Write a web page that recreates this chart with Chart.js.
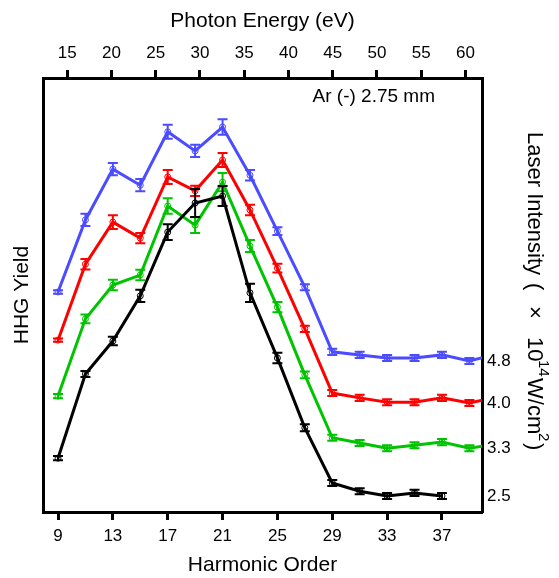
<!DOCTYPE html>
<html>
<head>
<meta charset="utf-8">
<script src="https://cdn.jsdelivr.net/npm/chart.js@4.4.0/dist/chart.umd.min.js"></script>
<style>
  html, body { margin: 0; padding: 0; background: #fff; }
  #wrap { width: 559px; height: 578px; }
</style>
</head>
<body>
<div id="wrap"><canvas id="hhg" width="559" height="578"></canvas></div>
<script>
// harmonic orders (odd harmonics of 800 nm)
var harmonics = [9, 11, 13, 15, 17, 19, 21, 23, 25, 27, 29, 31, 33, 35, 37, 39, 41];
var harmonicTicks = [9, 13, 17, 21, 25, 29, 33, 37];
var energyTicks = [15, 20, 25, 30, 35, 40, 45, 50, 55, 60];
var eVPerHarmonic = 1.55;

// laser intensity labels (x 10^14 W/cm^2)
var intensities = ['4.8', '4.0', '3.3', '2.5'];

// HHG yield, arbitrary units (offset curves)
var yield48 = [50.7, 67.3, 79.0, 75.3, 87.6, 83.2, 88.7, 77.6, 64.7, 51.8, 36.9, 36.2, 35.5, 35.5, 36.2, 34.8, 36.4];
var yield40 = [39.6, 57.1, 66.8, 63.1, 77.2, 74.0, 81.1, 69.6, 56.2, 42.2, 27.4, 26.3, 25.3, 25.3, 26.3, 25.1, 26.5];
var yield33 = [26.7, 44.5, 52.3, 54.6, 70.5, 66.1, 76.0, 61.3, 47.2, 31.6, 17.1, 15.9, 14.7, 15.4, 16.1, 14.7, 15.7];
var yield25 = [12.4, 31.8, 39.4, 49.8, 64.5, 71.2, 72.8, 50.5, 35.5, 19.4, 6.7, 4.8, 3.7, 4.4, 3.7];

// error bars (half height, same units)
var err48 = [0.4, 1.4, 1.4, 1.4, 1.6, 1.4, 1.8, 1.2, 0.9, 0.7, 0.7, 0.7, 0.7, 0.7, 0.7, 0.7, 0.7];
var err40 = [0.4, 1.2, 1.6, 1.2, 1.6, 1.2, 1.6, 1.2, 1.0, 0.7, 0.7, 0.7, 0.7, 0.7, 0.7, 0.7, 0.7];
var err33 = [0.5, 1.0, 1.2, 1.2, 1.8, 1.8, 2.1, 1.4, 1.2, 0.8, 0.7, 0.7, 0.7, 0.7, 0.7, 0.7, 0.7];
var err25 = [0.5, 0.7, 1.0, 1.4, 1.8, 3.2, 2.3, 2.1, 1.2, 0.8, 0.7, 0.7, 0.7, 0.7, 0.7];

var colors = { '4.8': '#4b4bff', '4.0': '#ff0000', '3.3': '#00c400', '2.5': '#000000' };

var xMin = 7.906, xMax = 39.92;

function makeSet(label, values, errors) {
    return {
        label: label,
        data: values.map(function(v, i) { return { x: harmonics[i], y: v }; }),
        errors: errors,
        borderColor: colors[label],
        backgroundColor: 'rgba(0,0,0,0)',
        borderWidth: 3,
        pointRadius: 3,
        pointBorderWidth: 1,
        pointBorderColor: colors[label],
        pointBackgroundColor: 'rgba(0,0,0,0)',
        tension: 0,
        xAxisID: 'x',
        yAxisID: 'y'
    };
}

// black drawn on top
var datasets = [
    makeSet('2.5', yield25, err25),
    makeSet('3.3', yield33, err33),
    makeSet('4.0', yield40, err40),
    makeSet('4.8', yield48, err48)
];

// right-hand labels sit at the level of each curve's last visible point
function tailLevel(values) {
    var last = 0;
    values.forEach(function(v, i) { if (harmonics[i] <= xMax) last = v; });
    return last;
}
var tailLevels = [tailLevel(yield48), tailLevel(yield40), tailLevel(yield33), tailLevel(yield25)];

var errorBars = {
    id: 'errorBars',
    afterDatasetsDraw: function(chart) {
        var ctx = chart.ctx;
        var xs = chart.scales.x, ys = chart.scales.y;
        var area = chart.chartArea;
        ctx.save();
        ctx.beginPath();
        ctx.rect(area.left, area.top, area.right - area.left, area.bottom - area.top);
        ctx.clip();
        for (var d = chart.data.datasets.length - 1; d >= 0; d--) {
            var ds = chart.data.datasets[d];
            ctx.strokeStyle = ds.borderColor;
            ctx.lineWidth = 2;
            ds.data.forEach(function(p, i) {
                var e = ds.errors[i];
                var px = xs.getPixelForValue(p.x);
                var top = ys.getPixelForValue(p.y + e);
                var bot = ys.getPixelForValue(p.y - e);
                ctx.beginPath();
                ctx.moveTo(px, top); ctx.lineTo(px, bot);
                ctx.moveTo(px - 5, top); ctx.lineTo(px + 5, top);
                ctx.moveTo(px - 5, bot); ctx.lineTo(px + 5, bot);
                ctx.stroke();
            });
        }
        ctx.restore();
    }
};

var extraText = {
    id: 'extraText',
    afterDraw: function(chart) {
        var ctx = chart.ctx;
        var area = chart.chartArea;
        ctx.save();
        ctx.fillStyle = '#000';
        ctx.textBaseline = 'middle';
        ctx.textAlign = 'right';
        ctx.font = '19px "Liberation Sans", Arial, sans-serif';
        ctx.fillText('Ar (-) 2.75 mm', area.right - 47, area.top + 19);

        // right axis title, reads top to bottom
        ctx.translate(528, 132);
        ctx.rotate(Math.PI / 2);
        ctx.textAlign = 'left';
        ctx.textBaseline = 'alphabetic';
        var big = '22px "Liberation Sans", Arial, sans-serif';
        var small = '15px "Liberation Sans", Arial, sans-serif';
        var parts = [
            [0, 'Laser Intensity', big, 0],
            [151, '(', big, 0],
            [174, '\u00d7', big, 0],
            [205, '10', big, 0],
            [228, '14', small, -11],
            [246, 'W/cm', big, 0],
            [301, '2', small, -11],
            [311, ')', big, 0]
        ];
        parts.forEach(function(p) {
            ctx.font = p[2];
            ctx.fillText(p[1], p[0], p[3]);
        });
        ctx.restore();
    }
};

var tickFont = { family: '"Liberation Sans", Arial, sans-serif', size: 17 };
var titleFont = { family: '"Liberation Sans", Arial, sans-serif', size: 21 };
var frame = { display: true, width: 3, color: '#000' };

var ctx = document.getElementById('hhg').getContext('2d');
var chart = new Chart(ctx, {
    type: 'line',
    data: { datasets: datasets },
    options: {
        responsive: false,
        animation: false,
        layout: { padding: 0 },
        plugins: {
            legend: { display: false },
            tooltip: { enabled: false }
        },
        scales: {
            x: {
                type: 'linear',
                position: 'bottom',
                min: xMin,
                max: xMax,
                border: frame,
                grid: { drawOnChartArea: false, drawTicks: true, tickLength: 8, tickWidth: 3, tickColor: '#000' },
                ticks: { font: tickFont, color: '#000', padding: 6, maxRotation: 0 },
                afterBuildTicks: function(axis) {
                    axis.ticks = harmonicTicks.map(function(v) { return { value: v }; });
                },
                title: { display: true, text: 'Harmonic Order', font: titleFont, color: '#000', padding: { top: 5, bottom: 0 } },
                afterFit: function(axis) { axis.height = 66; }
            },
            xTop: {
                type: 'linear',
                position: 'top',
                min: xMin * eVPerHarmonic,
                max: xMax * eVPerHarmonic,
                border: frame,
                grid: { drawOnChartArea: false, drawTicks: true, tickLength: 8, tickWidth: 3, tickColor: '#000' },
                ticks: { font: tickFont, color: '#000', padding: 6, maxRotation: 0 },
                afterBuildTicks: function(axis) {
                    axis.ticks = energyTicks.map(function(v) { return { value: v }; });
                },
                title: { display: true, text: 'Photon Energy (eV)', font: titleFont, color: '#000', padding: { top: 9, bottom: 1 } },
                afterFit: function(axis) { axis.height = 78; }
            },
            y: {
                type: 'linear',
                position: 'left',
                min: 0,
                max: 100,
                border: frame,
                grid: { drawOnChartArea: false, drawTicks: false },
                ticks: { display: false },
                title: { display: true, text: 'HHG Yield', font: titleFont, color: '#000', padding: { top: 10, bottom: 0 } },
                afterFit: function(axis) { axis.width = 43; }
            },
            yRight: {
                type: 'linear',
                position: 'right',
                min: 0,
                max: 100,
                border: frame,
                grid: { drawOnChartArea: false, drawTicks: false },
                afterBuildTicks: function(axis) {
                    axis.ticks = tailLevels.map(function(v) { return { value: v }; });
                },
                ticks: {
                    font: tickFont,
                    color: '#000',
                    padding: 5,
                    callback: function(value, index) { return intensities[index]; }
                },
                afterFit: function(axis) { axis.width = 77; }
            }
        }
    },
    plugins: [errorBars, extraText]
});
</script>
</body>
</html>
